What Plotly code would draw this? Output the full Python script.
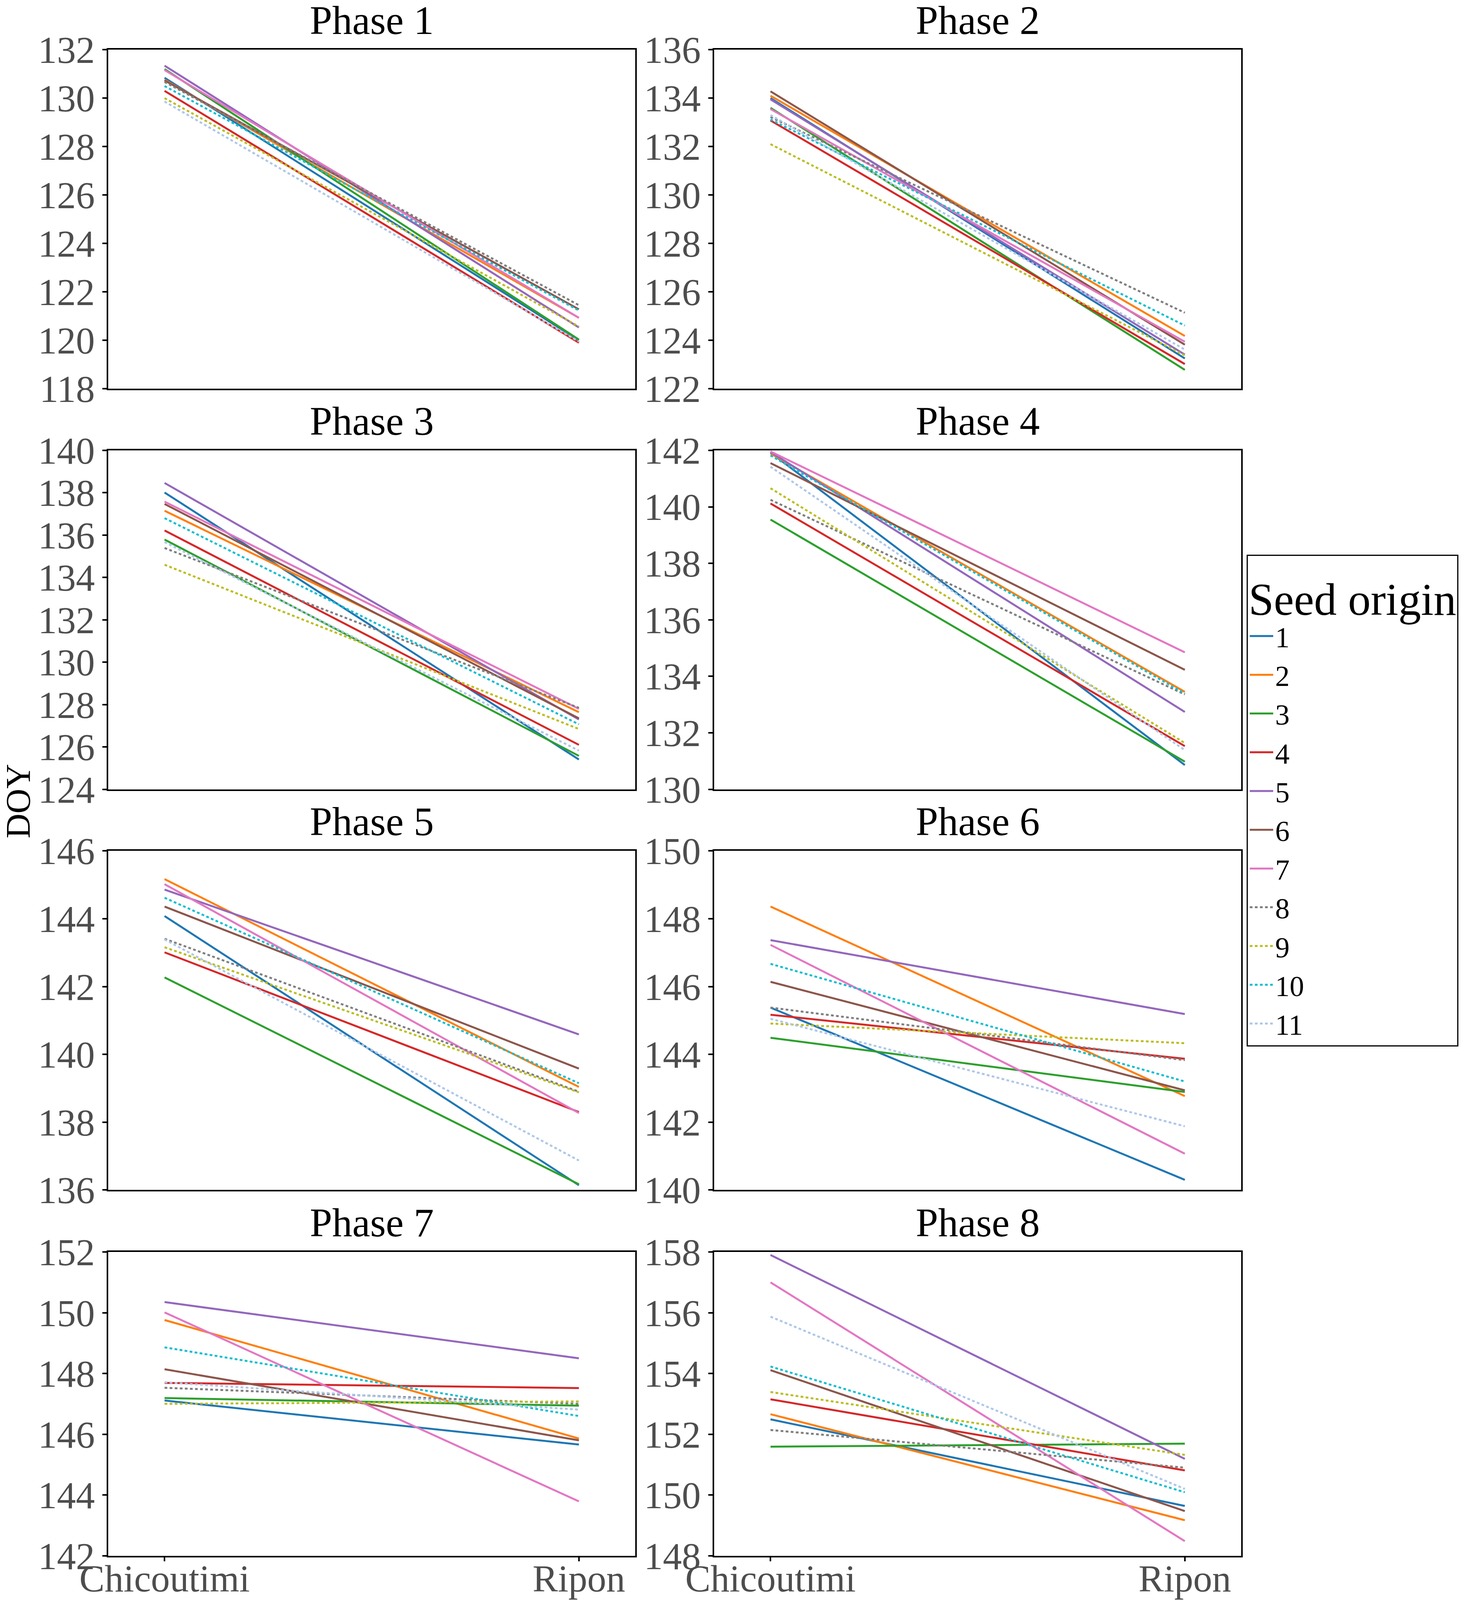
import plotly.graph_objects as go
from plotly.subplots import make_subplots

W = 3796
H = 4110           # visible page height in the headless browser
REF_H = 4328       # reference pixel grid used for the layout numbers below
FONT = "Liberation Serif"

sites = ["Chicoutimi", "Ripon"]
origins = ["1", "2", "3", "4", "5", "6", "7", "8", "9", "10", "11"]
colors = ["#1f77b4", "#ff7f0e", "#2ca02c", "#d62728", "#9467bd", "#8c564b",
          "#e377c2", "#7f7f7f", "#bcbd22", "#17becf", "#aec7e8"]
dashes = ["solid"] * 7 + ["7px,6px"] * 4

# mean DOY per seed origin (1..11), at each garden
phase1_chic = [130.84, 130.76, 131.20, 130.30, 131.34, 130.73, 131.16, 130.67, 130.00, 130.50, 129.86]
phase1_ripon = [120.00, 120.93, 120.03, 119.90, 120.53, 121.28, 120.93, 121.45, 120.57, 121.23, 119.95]
phase2_chic = [134.00, 134.10, 133.60, 133.08, 133.95, 134.28, 133.55, 133.22, 132.10, 133.12, 133.30]
phase2_ripon = [123.25, 124.18, 122.78, 123.02, 123.41, 123.82, 123.94, 125.14, 123.38, 124.61, 123.62]
phase3_chic = [138.01, 137.15, 135.79, 136.22, 138.46, 137.47, 137.58, 135.39, 134.60, 136.80, 135.67]
phase3_ripon = [125.41, 127.64, 125.58, 126.10, 127.30, 127.35, 127.80, 127.85, 126.85, 127.07, 125.83]
phase4_chic = [141.92, 141.89, 139.55, 140.12, 141.94, 141.55, 141.96, 140.25, 140.66, 141.82, 141.42]
phase4_ripon = [130.86, 133.45, 130.98, 131.53, 132.74, 134.23, 134.85, 133.36, 131.64, 133.39, 131.39]
phase5_chic = [144.08, 145.17, 142.27, 143.01, 144.86, 144.36, 145.02, 143.41, 143.16, 144.62, 143.39]
phase5_ripon = [136.14, 139.04, 136.17, 138.30, 140.59, 139.58, 138.27, 138.90, 138.88, 139.15, 136.87]
phase6_chic = [145.38, 148.36, 144.49, 145.17, 147.37, 146.14, 147.23, 145.38, 144.91, 146.67, 145.05]
phase6_ripon = [140.30, 142.77, 142.89, 143.87, 145.19, 142.94, 141.07, 143.83, 144.33, 143.20, 141.88]
phase7_chic = [147.11, 149.76, 147.19, 147.69, 150.35, 148.14, 150.01, 147.53, 147.00, 148.86, 147.71]
phase7_ripon = [145.66, 145.86, 146.94, 147.52, 148.50, 145.80, 143.79, 147.00, 147.08, 146.60, 146.81]
phase8_chic = [152.49, 152.66, 151.59, 153.15, 157.90, 154.11, 157.00, 152.14, 153.39, 154.23, 155.87]
phase8_ripon = [149.64, 149.17, 151.69, 150.81, 151.19, 149.47, 148.48, 150.90, 151.32, 150.09, 150.20]

phases = [
    ("Phase 1", phase1_chic, phase1_ripon, [118, 132]),
    ("Phase 2", phase2_chic, phase2_ripon, [122, 136]),
    ("Phase 3", phase3_chic, phase3_ripon, [124, 140]),
    ("Phase 4", phase4_chic, phase4_ripon, [130, 142]),
    ("Phase 5", phase5_chic, phase5_ripon, [136, 146]),
    ("Phase 6", phase6_chic, phase6_ripon, [140, 150]),
    ("Phase 7", phase7_chic, phase7_ripon, [142, 152]),
    ("Phase 8", phase8_chic, phase8_ripon, [148, 158]),
]

# panel boxes in pixels (reference grid)
col_px = [(277, 1626), (1828, 3177)]
row_px = [(134, 1048), (1214, 2128), (2294, 3208), (3375, 4194)]

fig = make_subplots(rows=4, cols=2)
annotations = []

for i, (title, chic, ripon, yr) in enumerate(phases):
    r, c = i // 2 + 1, i % 2 + 1
    for k, org in enumerate(origins):
        fig.add_trace(go.Scatter(
            x=sites, y=[chic[k], ripon[k]], mode="lines", name=org,
            showlegend=(i == 0),
            line=dict(color=colors[k], width=5, dash=dashes[k])),
            row=r, col=c)
    x0, x1 = col_px[c - 1]
    y0, y1 = row_px[r - 1]
    bottom = (r == 4)
    fig.update_xaxes(domain=[x0 / W, x1 / W], type="category", automargin=False,
                     categoryorder="array", categoryarray=sites,
                     range=[-0.136, 1.136], showgrid=False, zeroline=False,
                     showline=True, mirror=True, linecolor="black", linewidth=3.5,
                     ticks="outside" if bottom else "", ticklen=11, tickwidth=3.5,
                     tickcolor="black", showticklabels=bottom, ticklabelstandoff=-40,
                     tickfont=dict(family=FONT, size=97, color="#4d4d4d"),
                     row=r, col=c)
    fig.update_yaxes(domain=[1 - y1 / REF_H, 1 - y0 / REF_H], range=yr, automargin=False,
                     tickmode="linear", tick0=yr[0], dtick=2,
                     showgrid=False, zeroline=False,
                     showline=True, mirror=True, linecolor="black", linewidth=3.5,
                     ticks="outside", ticklen=11, tickwidth=3.5, tickcolor="black",
                     tickfont=dict(family=FONT, size=97, color="#4d4d4d"),
                     row=r, col=c)
    annotations.append(dict(
        text=title, x=(x0 + x1) / 2 / W, y=1 - (y0 - 79) / REF_H,
        xref="paper", yref="paper", xanchor="center", yanchor="middle",
        showarrow=False, font=dict(family=FONT, size=103, color="black")))

annotations.append(dict(
    text="DOY", x=46 / W, y=1 - 2160 / REF_H, xref="paper", yref="paper",
    xanchor="center", yanchor="middle", textangle=-90, showarrow=False,
    font=dict(family=FONT, size=88, color="black")))

fig.update_layout(
    width=W, height=H,
    margin=dict(l=0, r=0, t=0, b=0, autoexpand=False),
    paper_bgcolor="white", plot_bgcolor="white",
    font=dict(family=FONT, color="black"),
    annotations=annotations,
    legend=dict(
        title=dict(text="Seed origin", font=dict(family=FONT, size=116, color="black")),
        font=dict(family=FONT, size=74, color="black"),
        x=3191 / W, y=1 - 2158 / REF_H, xanchor="left", yanchor="middle",
        bgcolor="white", bordercolor="black", borderwidth=3,
        tracegroupgap=0, itemwidth=60),
)

fig.write_html("out.html", config={"displayModeBar": False},
               post_script="document.body.style.margin='0px';")
